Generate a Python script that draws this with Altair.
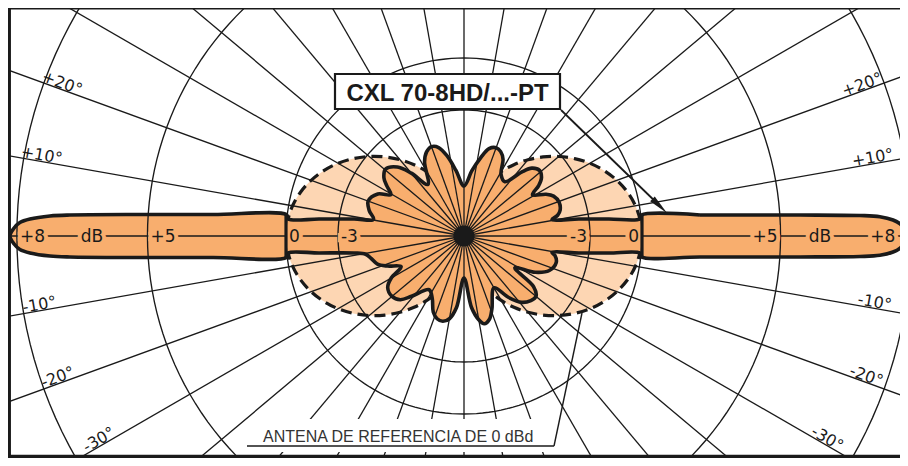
import altair as alt
import pandas as pd

# ---------------- chart values ----------------
ring_db = [-3, 0, 5, 8]                    # concentric dB circles
spoke_deg = list(range(0, 360, 10))        # radial grid lines
elev_label_deg = [10, 20, -10, -20, -30]

# reference half-wave dipole (0 dBd): relative field vs elevation, one quadrant
dipole_deg = [0, 5, 10, 15, 20, 25, 30, 35, 40, 45, 50, 55, 60, 65, 70, 75, 80, 85, 90]
dipole_rel = [1.0, 0.994, 0.978, 0.951, 0.914, 0.869, 0.817, 0.758, 0.695, 0.628,
              0.559, 0.489, 0.418, 0.347, 0.277, 0.207, 0.138, 0.069, 0.0]

# CXL 70-8HD/...-PT vertical pattern: relative field (1 = 0 dBd) vs angle (deg, CCW)
main_deg = [0, 0.78, 1.58, 2.14, 2.66, 2.96, 3.57, 5.1, 6.74, 5.52, 6.69, 8.41, 10.6,
            12.5, 15, 19.5, 24, 27, 31,
            34, 37, 41, 45, 48, 53,
            59, 63, 66.5, 70, 74, 78, 83, 90,
            97, 102, 106, 110, 114, 118, 125,
            130, 134, 139.5, 144, 147, 150.5,
            154, 160, 165, 169.5,
            171.2, 173.31, 174.48, 173.1, 175.1, 176.17, 176.95, 177.23, 177.76, 178.26,
            178.98, 180, 181.02,
            181.74, 182.24, 182.77, 183.05, 183.83, 184.9, 186.9, 185.52, 186.69, 188.8,
            190.5, 194, 198, 201.5, 206,
            210, 214, 220, 225, 229, 237,
            243, 248, 252, 256, 260, 264, 270,
            276, 280, 283, 287, 291, 300,
            306, 311, 316, 320, 324, 328,
            333, 338, 344, 348, 349.4,
            351.59, 353.31, 354.48, 353.26, 354.9, 356.43, 357.04, 357.34, 357.86,
            358.42, 359.22]
main_rel = [2.489, 2.478, 2.451, 2.412, 2.339, 2.228, 1.892, 1.331, 1.005, 0.993, 0.820,
            0.653, 0.503,
            0.539, 0.559, 0.567, 0.551, 0.517, 0.449,
            0.506, 0.545, 0.562, 0.539, 0.483, 0.382,
            0.404, 0.483, 0.517, 0.528, 0.511, 0.449, 0.371, 0.281,
            0.371, 0.461, 0.517, 0.534, 0.517, 0.472, 0.354,
            0.461, 0.539, 0.579, 0.556, 0.517, 0.472,
            0.539, 0.573, 0.551, 0.517,
            0.625, 0.820, 0.993, 1.005, 1.415, 1.807, 2.217, 2.329, 2.440, 2.496,
            2.528, 2.551, 2.528,
            2.496, 2.440, 2.329, 2.217, 1.807, 1.415, 1.005, 0.993, 0.820, 0.625,
            0.562, 0.534, 0.511, 0.461, 0.393,
            0.472, 0.517, 0.528, 0.506, 0.449, 0.360,
            0.393, 0.461, 0.489, 0.494, 0.472, 0.404, 0.236,
            0.404, 0.478, 0.506, 0.489, 0.438, 0.337,
            0.427, 0.494, 0.522, 0.528, 0.483, 0.337,
            0.449, 0.517, 0.539, 0.522, 0.503,
            0.653, 0.820, 0.993, 1.005, 1.331, 1.892, 2.228, 2.339, 2.412,
            2.451, 2.478]

title_text = "CXL 70-8HD/...-PT"
ref_text = "ANTENA DE REFERENCIA DE 0 dBd"

# ---------------- layout / style ----------------
W, H = 892, 450          # plot area (whole page minus the 8px margins)
CX, CY = 456.0, 228.0    # pattern centre inside the plot (px)
R0 = 178.0               # px for the 0 dB circle
ORANGE = "#F8AE6E"
LIGHT = "#FDD6B3"
INK = "#1a1a1a"
LABEL_FONT = "DejaVu Sans"
TITLE_FONT = "Liberation Sans"
NOTE_FONT = "Liberation Sans"

XS = alt.Scale(domain=[-CX / R0, (W - CX) / R0], nice=False, zero=False)
YS = alt.Scale(domain=[-(H - CY) / R0, CY / R0], nice=False, zero=False)


def ex(f="x"):
    return alt.X(f"{f}:Q", scale=XS, axis=None)


def ey(f="y"):
    return alt.Y(f"{f}:Q", scale=YS, axis=None)


def polar(ch):
    return ch.transform_calculate(
        x="datum.rel * cos(datum.deg * PI / 180)",
        y="datum.rel * sin(datum.deg * PI / 180)",
    )


# dipole: mirror the quadrant to the full circle
dlook = dict(zip(dipole_deg, dipole_rel))
drows = []
for i, a in enumerate(range(0, 360, 5)):
    f = a % 180
    f = 180 - f if f > 90 else f
    drows.append({"i": i, "deg": a, "rel": dlook[f]})
dip_df = pd.DataFrame(drows)

# main pattern: start the open path on a straight beam edge and close it
k = main_deg.index(5.1)
md = main_deg[k:] + main_deg[:k] + [main_deg[k]]
mr = main_rel[k:] + main_rel[:k] + [main_rel[k]]
main_df = pd.DataFrame({"i": range(len(md)), "deg": md, "rel": mr})

ring_rows = []
for db in ring_db:
    for a in range(0, 362, 2):
        ring_rows.append({"ring": db, "deg": a})
ring_df = pd.DataFrame(ring_rows)
spoke_df = pd.DataFrame({"deg": spoke_deg})

dip_fill = polar(alt.Chart(dip_df)).mark_line(
    interpolate="cardinal-closed", fill=LIGHT, strokeOpacity=0
).encode(x=ex(), y=ey(), order=alt.Order("i:Q"))

dip_line = polar(alt.Chart(dip_df)).mark_line(
    interpolate="cardinal-closed", stroke=INK, strokeWidth=3.2,
    strokeDash=[11, 6], fillOpacity=0
).encode(x=ex(), y=ey(), order=alt.Order("i:Q"))

main_fill = polar(alt.Chart(main_df)).mark_line(
    interpolate="catmull-rom", fill=ORANGE, strokeOpacity=0
).encode(x=ex(), y=ey(), order=alt.Order("i:Q"))

main_line = polar(alt.Chart(main_df)).mark_line(
    interpolate="catmull-rom", stroke=INK, strokeWidth=3.6, strokeJoin="round"
).encode(x=ex(), y=ey(), order=alt.Order("i:Q"))

rings = alt.Chart(ring_df).transform_calculate(
    rel="pow(10, datum.ring / 20)"
).transform_calculate(
    x="datum.rel * cos(datum.deg * PI / 180)",
    y="datum.rel * sin(datum.deg * PI / 180)",
).mark_line(stroke=INK, strokeWidth=1.35, clip=True).encode(
    x=ex(), y=ey(), detail="ring:N", order=alt.Order("deg:Q")
)

spokes = alt.Chart(spoke_df).transform_calculate(
    x0="0", y0="0",
    x1="3.2 * cos(datum.deg * PI / 180)",
    y1="3.2 * sin(datum.deg * PI / 180)",
).mark_rule(stroke=INK, strokeWidth=1.3, clip=True).encode(
    x=ex("x0"), y=ey("y0"), x2=alt.X2("x1:Q"), y2=alt.Y2("y1:Q")
)

# black bars where the dipole outline crosses the main beam (0 dB circle)
bars = alt.Chart(pd.DataFrame({"x": [-1.0, 1.0]})).transform_calculate(
    ya="-0.125", yb="0.125"
).mark_rule(stroke=INK, strokeWidth=3.2).encode(
    x=ex(), y=ey("ya"), y2=alt.Y2("yb:Q")
)

hub = alt.Chart(pd.DataFrame({"x": [0.0], "y": [0.0]})).mark_point(
    filled=True, color=INK, size=450, opacity=1
).encode(x=ex(), y=ey())

# dB labels along the horizontal line
left_rows, right_rows = [], []
for db in ring_db:
    t = "0" if db == 0 else f"{db:+d}"
    r = 10 ** (db / 20)
    left_rows.append({"t": t, "x": -r, "y": 0.0})
    right_rows.append({"t": t, "x": min(r, 2.44), "y": 0.0})
db_rows = [{"t": "dB", "x": -2.09, "y": 0.0}, {"t": "dB", "x": 2.0, "y": 0.0}]


def hlabels(rows, align, dx, halo):
    kw = dict(align=align, baseline="middle", dx=dx, dy=1, font=LABEL_FONT,
              fontSize=17)
    if halo:
        kw.update(stroke=ORANGE, strokeWidth=8, fill=ORANGE)
    else:
        kw.update(fill=INK)
    return alt.Chart(pd.DataFrame(rows)).mark_text(**kw).encode(
        x=ex(), y=ey(), text="t:N")


lab_halo = [
    hlabels(left_rows, "left", 3, True), hlabels(right_rows, "right", -3, True),
    hlabels(db_rows, "center", 0, True),
]
lab_text = [
    hlabels(left_rows, "left", 3, False), hlabels(right_rows, "right", -3, False),
    hlabels(db_rows, "center", 0, False),
]

# elevation labels on both sides (pulled in a little where the page edge cuts)
el_rows = []
for e in elev_label_deg:
    t = (f"+{e}°" if e > 0 else f"-{abs(e)}°")
    rl = 418.0 if e == -30 else 430.0
    rr = 416.0 if abs(e) in (10, 30) else 426.0
    el_rows.append({"t": t, "deg": 180 - e, "rel": rl / R0, "ang": e % 360})
    el_rows.append({"t": t, "deg": e, "rel": rr / R0, "ang": (-e) % 360})
elev = polar(alt.Chart(pd.DataFrame(el_rows))).mark_text(
    font=LABEL_FONT, fontSize=16, baseline="bottom", align="center", dy=2,
    color=INK
).encode(x=ex(), y=ey(), text="t:N", angle=alt.Angle("ang:Q", scale=None))

one = pd.DataFrame({"a": [0]})

# title box with arrow
tbox = alt.Chart(one).mark_rect(fill="white", stroke=INK, strokeWidth=2.2).encode(
    x=alt.value(327), x2=alt.value(552), y=alt.value(66), y2=alt.value(101))
ttext = alt.Chart(one).mark_text(
    text=title_text, font=TITLE_FONT, fontWeight="bold", fontSize=24,
    align="center", baseline="alphabetic", color=INK
).encode(x=alt.value(439.5), y=alt.value(93))
arrow = alt.Chart(one).mark_rule(stroke=INK, strokeWidth=1.8).encode(
    x=alt.value(553), y=alt.value(102), x2=alt.value(653), y2=alt.value(199))
head = alt.Chart(one).mark_point(
    shape="M0,-1L0.32,1L-0.32,1Z", size=420, filled=True, color=INK,
    opacity=1, angle=134.2
).encode(x=alt.value(651.8), y=alt.value(198))

# reference-antenna note
nmask = alt.Chart(one).mark_rect(fill="white").encode(
    x=alt.value(239), x2=alt.value(547), y=alt.value(411), y2=alt.value(444))
ntext = alt.Chart(one).mark_text(
    text=ref_text, font=NOTE_FONT, fontSize=16, align="left",
    baseline="alphabetic", color="#333333"
).encode(x=alt.value(255), y=alt.value(434))
nline = alt.Chart(one).mark_rule(stroke=INK, strokeWidth=1.4).encode(
    x=alt.value(239), x2=alt.value(546), y=alt.value(438))
nlead = alt.Chart(one).mark_rule(stroke=INK, strokeWidth=1.4).encode(
    x=alt.value(546), y=alt.value(438), x2=alt.value(574), y2=alt.value(305))

# frame
ftop = alt.Chart(one).mark_rule(stroke=INK, strokeWidth=2).encode(
    x=alt.value(0), x2=alt.value(W), y=alt.value(0.5))
fleft = alt.Chart(one).mark_rule(stroke=INK, strokeWidth=3.5).encode(
    x=alt.value(1.2), y=alt.value(0), y2=alt.value(H))
fbot = alt.Chart(one).mark_rule(stroke=INK, strokeWidth=3.5).encode(
    x=alt.value(0), x2=alt.value(W), y=alt.value(H - 1.5))

chart = alt.layer(
    dip_fill, dip_line, main_fill, rings, spokes, main_line,
    *lab_halo, bars, *lab_text, hub, elev,
    nmask, ntext, nline, nlead,
    tbox, ttext, arrow, head,
    ftop, fleft, fbot,
).properties(
    width=W, height=H, padding=0, autosize=alt.AutoSizeParams(type="none"),
    background="white",
).configure_view(stroke=None)

chart.save("out.html", embed_options={"renderer": "svg", "actions": False})
